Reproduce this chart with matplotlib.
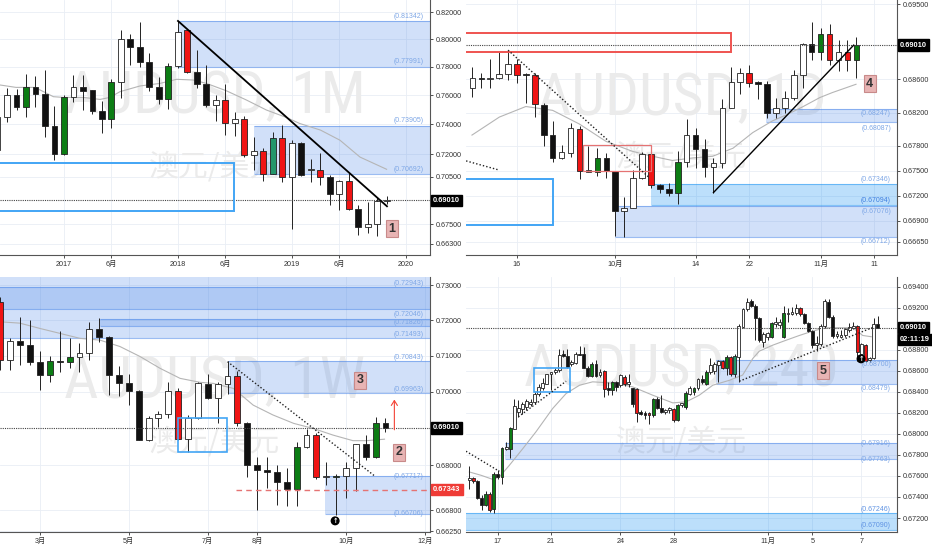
import matplotlib
matplotlib.use('Agg')
import matplotlib.pyplot as plt
from matplotlib import font_manager
from matplotlib.patches import Rectangle

plt.rcParams['font.family'] = ['Liberation Sans', 'Noto Sans CJK SC']

# ---------------- monthly candles (Jun 2016 .. Nov 2019) ----------------
m_open = [0.7225, 0.7451, 0.7600, 0.7520, 0.7658, 0.7607, 0.7386, 0.7198, 0.7584, 0.7658,
          0.7635, 0.7491, 0.7432, 0.7692, 0.8005, 0.7944, 0.7835, 0.7658, 0.7570, 0.7805,
          0.8065, 0.7765, 0.7680, 0.7529, 0.7568, 0.7409, 0.7432, 0.7191, 0.7218, 0.7071,
          0.7310, 0.7050, 0.7274, 0.7093, 0.7093, 0.7050, 0.6941, 0.7022, 0.6845, 0.6734,
          0.6750, 0.6895]
m_high = [0.7525, 0.7650, 0.7640, 0.7750, 0.7735, 0.7776, 0.7525, 0.7600, 0.7740, 0.7745,
          0.7638, 0.7560, 0.7715, 0.8066, 0.8041, 0.8127, 0.7897, 0.7730, 0.7825, 0.8135,
          0.8068, 0.7918, 0.7810, 0.7600, 0.7677, 0.7485, 0.7455, 0.7315, 0.7240, 0.7345,
          0.7395, 0.7296, 0.7280, 0.7168, 0.7205, 0.7060, 0.7030, 0.7082, 0.6872, 0.6893,
          0.6920, 0.6931]
m_low = [0.7150, 0.7416, 0.7497, 0.7450, 0.7515, 0.7315, 0.7162, 0.7195, 0.7555, 0.7495,
         0.7470, 0.7338, 0.7377, 0.7577, 0.7812, 0.7800, 0.7630, 0.7536, 0.7507, 0.7790,
         0.7757, 0.7652, 0.7517, 0.7420, 0.7326, 0.7320, 0.7180, 0.7093, 0.7025, 0.7068,
         0.7020, 0.6722, 0.7055, 0.7015, 0.7000, 0.6872, 0.6840, 0.6840, 0.6684, 0.6694,
         0.6680, 0.6876]
m_close = [0.7451, 0.7598, 0.7520, 0.7658, 0.7607, 0.7386, 0.7198, 0.7584, 0.7658, 0.7630,
           0.7491, 0.7432, 0.7692, 0.8005, 0.7944, 0.7835, 0.7658, 0.7570, 0.7805, 0.8055,
           0.7765, 0.7680, 0.7529, 0.7568, 0.7409, 0.7432, 0.7191, 0.7218, 0.7071, 0.7310,
           0.7050, 0.7274, 0.7061, 0.7103, 0.7050, 0.6941, 0.7022, 0.6845, 0.6734, 0.6750,
           0.6895, 0.6901]
m_mark = "wwkgkkkgwkkkgwkkkkgwrkkwrwrwrtrwkwrkwrkwww"
m_ticks = [7, 12, 19, 24, 31, 36, 43]
m_tick_labels = ['2017', '6月', '2018', '6月', '2019', '6月', '2020']
m_yticks = [0.82, 0.80, 0.78, 0.76, 0.74, 0.72, 0.705, 0.675, 0.663]
m_ma_x = [0.26, 1.95, 3.95, 5.88, 6.93, 9.04, 10.79, 11.84, 12.89, 15.0, 17.1, 18.86,
          20.61, 22.0, 24.1, 26.2, 28.3, 30.4, 31.8, 34.0, 36.05, 38.16, 40.96]
m_ma = [0.7671, 0.7654, 0.7654, 0.7589, 0.7584, 0.7584, 0.7570, 0.7584, 0.7624, 0.7664,
        0.7682, 0.7711, 0.7706, 0.7682, 0.7630, 0.7566, 0.7497, 0.7446, 0.7405, 0.7360,
        0.7292, 0.7180, 0.7100]

# ---------------- daily candles (Sep 9 .. Nov 7 2019), index 0 = Sep 16 ----------------
d_x = list(range(-5, 39))
d_open = [0.6849, 0.6862, 0.6860, 0.6862, 0.6866, 0.6878, 0.6866, 0.6865, 0.6829, 0.6793,
          0.6766, 0.6772, 0.6800, 0.6749, 0.6749, 0.6766, 0.6750, 0.6702, 0.6706, 0.6742,
          0.6770, 0.6733, 0.6728, 0.6724, 0.6761, 0.6793, 0.6776, 0.6755, 0.6759, 0.6826,
          0.6857, 0.6868, 0.6857, 0.6854, 0.6819, 0.6825, 0.6838, 0.6865, 0.6902, 0.6893,
          0.6914, 0.6883, 0.6893, 0.6883]
d_high = [0.6875, 0.6868, 0.6884, 0.6893, 0.6895, 0.6884, 0.6868, 0.6867, 0.6831, 0.6810,
          0.6781, 0.6807, 0.6804, 0.6780, 0.6778, 0.6772, 0.6750, 0.6719, 0.6751, 0.6773,
          0.6772, 0.6734, 0.6735, 0.6774, 0.6812, 0.6802, 0.6788, 0.6765, 0.6836, 0.6875,
          0.6873, 0.6877, 0.6858, 0.6858, 0.6837, 0.6846, 0.6871, 0.6903, 0.6929, 0.6922,
          0.6926, 0.6907, 0.6907, 0.6911]
d_low = [0.6839, 0.6849, 0.6849, 0.6860, 0.6859, 0.6855, 0.6832, 0.6815, 0.6780, 0.6761,
         0.6764, 0.6767, 0.6740, 0.6749, 0.6744, 0.6741, 0.6672, 0.6671, 0.6705, 0.6740,
         0.6730, 0.6724, 0.6720, 0.6710, 0.6755, 0.6753, 0.6743, 0.6724, 0.6753, 0.6825,
         0.6842, 0.6851, 0.6836, 0.6813, 0.6813, 0.6819, 0.6835, 0.6850, 0.6883, 0.6883,
         0.6877, 0.6870, 0.6870, 0.6862]
d_close = [0.6862, 0.6860, 0.6862, 0.6866, 0.6878, 0.6865, 0.6865, 0.6830, 0.6793, 0.6766,
           0.6773, 0.6801, 0.6750, 0.6751, 0.6766, 0.6750, 0.6702, 0.6706, 0.6742, 0.6770,
           0.6733, 0.6728, 0.6724, 0.6761, 0.6793, 0.6776, 0.6755, 0.6759, 0.6826, 0.6857,
           0.6868, 0.6856, 0.6854, 0.6819, 0.6825, 0.6838, 0.6865, 0.6902, 0.6893, 0.6914,
           0.6883, 0.6893, 0.6883, 0.6901]
d_mark = "wkwwwrkrkkwwrwgkkwwwrkkgwkkwwwwrkkwwwwkgrwrg"
d_ticks = [0, 11, 20, 26, 34, 40]
d_tick_labels = ['16', '10月', '14', '22', '11月', '11']
d_yticks = [0.695, 0.686, 0.682, 0.678, 0.675, 0.672, 0.669, 0.6665]
d_ma_x = [-5.04, -1.98, 0.99, 3.99, 6.98, 9.97, 12.95, 15.2, 17.4, 19.7, 21.9, 24.2,
          26.4, 28.6, 30.1, 32.0, 33.9, 35.3, 37.96]
d_ma = [0.6793, 0.68146, 0.68273, 0.68227, 0.68063, 0.67854, 0.67734, 0.67675, 0.67625,
        0.67656, 0.67675, 0.67773, 0.6796, 0.6810, 0.6817, 0.6827, 0.6838, 0.6844, 0.6854]

# ---------------- weekly candles (Feb 4 .. Nov 4 2019), index 0 = Mar 4 ----------------
w_x = list(range(-4, 36))
w_open = [0.7251, 0.7088, 0.7141, 0.7130, 0.7082, 0.7046, 0.7085, 0.7082, 0.7097, 0.7107,
          0.7175, 0.7154, 0.7046, 0.7025, 0.7002, 0.6868, 0.6927, 0.6938, 0.7003, 0.6871,
          0.6927, 0.7020, 0.6982, 0.7020, 0.7043, 0.6913, 0.6800, 0.6787, 0.6781, 0.6756,
          0.6736, 0.6850, 0.6881, 0.6767, 0.6768, 0.6772, 0.6793, 0.6856, 0.6823, 0.6913]
w_high = [0.7268, 0.7151, 0.7210, 0.7201, 0.7113, 0.7099, 0.7169, 0.7149, 0.7135, 0.7196,
          0.7206, 0.7156, 0.7072, 0.7049, 0.7004, 0.6934, 0.6946, 0.7026, 0.7009, 0.6936,
          0.7026, 0.7048, 0.7026, 0.7085, 0.7057, 0.6918, 0.6823, 0.6821, 0.6800, 0.6791,
          0.6863, 0.6898, 0.6886, 0.6809, 0.6777, 0.6809, 0.6858, 0.6882, 0.6931, 0.6929]
w_low = [0.7060, 0.7060, 0.7074, 0.7074, 0.7005, 0.7028, 0.7056, 0.7065, 0.7055, 0.7088,
         0.7140, 0.6991, 0.6988, 0.6963, 0.6868, 0.6866, 0.6903, 0.6929, 0.6868, 0.6834,
         0.6925, 0.6980, 0.6913, 0.6995, 0.6907, 0.6767, 0.6681, 0.6738, 0.6694, 0.6692,
         0.6692, 0.6845, 0.6763, 0.6747, 0.6668, 0.6713, 0.6731, 0.6813, 0.6818, 0.6890]
w_close = [0.7088, 0.7141, 0.7130, 0.7082, 0.7046, 0.7085, 0.7082, 0.7097, 0.7107, 0.7175,
           0.7154, 0.7046, 0.7025, 0.7002, 0.6868, 0.6927, 0.6938, 0.7003, 0.6870, 0.6927,
           0.7023, 0.6982, 0.7020, 0.7043, 0.6913, 0.6800, 0.6787, 0.6781, 0.6756, 0.6736,
           0.6850, 0.6880, 0.6767, 0.6770, 0.6772, 0.6793, 0.6856, 0.6823, 0.6913, 0.6901]
w_mark = "rwkkkgkgwwkkkkkwwwrwwkwwrkkkkkgwrwgwwkgk"
w_ticks = [0, 9, 17, 22, 31, 39]
w_tick_labels = ['3月', '5月', '7月', '8月', '10月', '12月']
w_yticks = [0.73, 0.72, 0.71, 0.70, 0.68, 0.668, 0.6625]
w_ma_x = [-4.05, -2.03, 0.0, 2.03, 4.05, 6.08, 8.1, 10.13, 12.16, 14.19, 16.21, 17.56,
          19.6, 21.6, 23.6, 25.7, 27.7, 29.7, 31.7, 33.1, 34.9]
w_ma = [0.7196, 0.7192, 0.7177, 0.7163, 0.7149, 0.7144, 0.7126, 0.7098, 0.7065, 0.7037,
        0.7026, 0.7023, 0.7009, 0.6963, 0.6936, 0.6913, 0.6899, 0.6881, 0.6866, 0.6866,
        0.6870]

# ---------------- 4h candles (Oct 16 .. Nov 7 2019) ----------------
h_open = [0.67558, 0.67581, 0.67549, 0.67390, 0.67320, 0.67431, 0.67289, 0.67616, 0.67590, 0.67860,
          0.67860, 0.68051, 0.68209, 0.68241, 0.68257, 0.68289, 0.68305, 0.68384, 0.68438, 0.68479,
          0.68565, 0.68584, 0.68606, 0.68758, 0.68743, 0.68660, 0.68670, 0.68762, 0.68762, 0.68628,
          0.68552, 0.68663, 0.68559, 0.68597, 0.68432, 0.68416, 0.68495, 0.68463, 0.68543, 0.68470,
          0.68432, 0.68425, 0.68209, 0.68203, 0.68203, 0.68178, 0.68330, 0.68247, 0.68209, 0.68225,
          0.68241, 0.68130, 0.68273, 0.68257, 0.68384, 0.68400, 0.68432, 0.68520, 0.68479, 0.68584,
          0.68597, 0.68654, 0.68692, 0.68628, 0.68727, 0.68565, 0.68733, 0.69019, 0.69184, 0.69263,
          0.69219, 0.69105, 0.68876, 0.68924, 0.68924, 0.69041, 0.69035, 0.68924, 0.69136, 0.69136,
          0.69152, 0.69200, 0.69136, 0.69050, 0.68978, 0.68844, 0.68851, 0.69028, 0.69257, 0.69114,
          0.68933, 0.68924, 0.68940, 0.68987, 0.69009, 0.69028, 0.68755, 0.68844, 0.68701, 0.68717,
          0.69041]
h_high = [0.67695, 0.67590, 0.67558, 0.67416, 0.67454, 0.67447, 0.67638, 0.67654, 0.67876, 0.67924,
          0.68066, 0.68330, 0.68320, 0.68305, 0.68336, 0.68330, 0.68400, 0.68479, 0.68527, 0.68574,
          0.68590, 0.68628, 0.68806, 0.68797, 0.68806, 0.68701, 0.68781, 0.68838, 0.68828, 0.68647,
          0.68679, 0.68698, 0.68616, 0.68606, 0.68489, 0.68501, 0.68501, 0.68565, 0.68559, 0.68574,
          0.68438, 0.68432, 0.68225, 0.68216, 0.68209, 0.68343, 0.68352, 0.68368, 0.68241, 0.68257,
          0.68247, 0.68289, 0.68298, 0.68406, 0.68457, 0.68447, 0.68533, 0.68559, 0.68603, 0.68717,
          0.68679, 0.68701, 0.68701, 0.68749, 0.68743, 0.68755, 0.69041, 0.69193, 0.69295, 0.69282,
          0.69232, 0.69114, 0.68965, 0.68971, 0.69066, 0.69114, 0.69092, 0.69219, 0.69193, 0.69209,
          0.69232, 0.69209, 0.69152, 0.69066, 0.68987, 0.68933, 0.69041, 0.69282, 0.69282, 0.69130,
          0.68978, 0.68987, 0.69009, 0.69050, 0.69066, 0.69035, 0.68860, 0.68851, 0.68733, 0.69098,
          0.69124]
h_low = [0.67479, 0.67536, 0.67384, 0.67273, 0.67314, 0.67257, 0.67250, 0.67574, 0.67527, 0.67844,
         0.67771, 0.68044, 0.68162, 0.68193, 0.68225, 0.68267, 0.68289, 0.68362, 0.68416, 0.68470,
         0.68416, 0.68574, 0.68590, 0.68733, 0.68628, 0.68647, 0.68660, 0.68749, 0.68622, 0.68543,
         0.68543, 0.68543, 0.68543, 0.68352, 0.68374, 0.68374, 0.68406, 0.68447, 0.68457, 0.68447,
         0.68257, 0.68114, 0.68178, 0.68146, 0.68098, 0.68162, 0.68241, 0.68203, 0.68193, 0.68203,
         0.68114, 0.68120, 0.68257, 0.68241, 0.68368, 0.68374, 0.68416, 0.68470, 0.68463, 0.68574,
         0.68574, 0.68495, 0.68616, 0.68559, 0.68549, 0.68543, 0.68495, 0.69003, 0.69168, 0.69209,
         0.68890, 0.68876, 0.68828, 0.68890, 0.68908, 0.69019, 0.69009, 0.68914, 0.69066, 0.69130,
         0.69130, 0.69124, 0.69041, 0.68971, 0.68819, 0.68787, 0.68838, 0.69009, 0.69098, 0.68914,
         0.68908, 0.68908, 0.68924, 0.68971, 0.68997, 0.68692, 0.68733, 0.68679, 0.68679, 0.68710,
         0.69005]
h_close = [0.67581, 0.67549, 0.67390, 0.67320, 0.67431, 0.67273, 0.67616, 0.67590, 0.67866, 0.67876,
           0.68057, 0.68265, 0.68247, 0.68289, 0.68311, 0.68305, 0.68384, 0.68447, 0.68486, 0.68565,
           0.68584, 0.68612, 0.68749, 0.68743, 0.68638, 0.68679, 0.68762, 0.68749, 0.68628, 0.68552,
           0.68663, 0.68552, 0.68590, 0.68425, 0.68416, 0.68495, 0.68447, 0.68559, 0.68470, 0.68489,
           0.68289, 0.68203, 0.68193, 0.68184, 0.68178, 0.68330, 0.68247, 0.68209, 0.68231, 0.68247,
           0.68130, 0.68279, 0.68295, 0.68393, 0.68438, 0.68432, 0.68520, 0.68489, 0.68590, 0.68654,
           0.68660, 0.68692, 0.68628, 0.68727, 0.68565, 0.68743, 0.69028, 0.69184, 0.69257, 0.69219,
           0.69105, 0.68890, 0.68946, 0.68955, 0.69057, 0.69066, 0.69060, 0.69152, 0.69152, 0.69155,
           0.69200, 0.69136, 0.69050, 0.68978, 0.68844, 0.68860, 0.69028, 0.69263, 0.69114, 0.68933,
           0.68946, 0.68940, 0.68997, 0.69019, 0.69028, 0.68781, 0.68851, 0.68692, 0.68717, 0.69041,
           0.69010]
h_mark = ("wrkkgrgkgwgwwwwwwwwwwwwkkwwkkkgkwrkgkwrwkrkkrgkkwwrgwgwgwkgwwwrgrtwwwkkkwwgwwgwwwrkkkwwwkkwwwwwrwrwwk")
h_x = list(range(len(h_open)))
h_ticks = [7, 20, 37, 50, 73, 84, 96]
h_tick_labels = ['17', '21', '24', '28', '11月', '5', '7']
h_yticks = [0.694, 0.692, 0.688, 0.686, 0.684, 0.682, 0.680, 0.678, 0.676, 0.674, 0.672]
h_ma_x = [0, 2.9, 5.7, 7.35, 9.8, 13.1, 16.3, 20.4, 23.7, 27.0, 30.2, 32.7, 36.0, 40.0,
          44.9, 49.8, 53.1, 56.3, 59.6, 63.7, 66.9, 69.4, 71.0, 74.3, 77.5, 80.8, 84.1,
          87.3, 90.6, 93.9, 96.3, 98.4]
h_ma = [0.67638, 0.67606, 0.67568, 0.67590, 0.67701, 0.67860, 0.68019, 0.68241, 0.68384,
        0.68463, 0.68495, 0.68489, 0.68479, 0.68447, 0.68368, 0.68295, 0.68305, 0.68368,
        0.68463, 0.68510, 0.68559, 0.68717, 0.68787, 0.68844, 0.68890, 0.68936, 0.68978,
        0.69009, 0.69009, 0.69009, 0.68936, 0.68924]

last_price = 0.6901

FILL = {'w': 'white', 'k': '#111111', 'r': '#f01414', 'g': '#0c7d14', 't': '#23966a'}
ZONE = '#4a86e8'
SKY = '#2196f3'
LBL = '#7ea7e6'


def pick_font(names, default='Liberation Sans'):
    # first narrow face that is really installed
    for n in names:
        try:
            font_manager.findfont(font_manager.FontProperties(family=n), fallback_to_default=False)
            return n
        except ValueError:
            pass
    return default


WM_FONT = pick_font(['Liberation Sans Narrow', 'Noto Sans Condensed', 'Roboto Condensed',
                     'DejaVu Sans Condensed', 'Open Sans Condensed'])

W, H = 932, 550
fig = plt.figure(figsize=(W / 100, H / 100), dpi=100)


def px_axes(left, top, right, bottom):
    return fig.add_axes([left / W, 1 - bottom / H, (right - left) / W, (bottom - top) / H])


def candles(ax, x, o, h, l, c, marks, width):
    for xi, oi, hi, li, ci, mk in zip(x, o, h, l, c, marks):
        ax.vlines(xi, li, hi, color='#222222', lw=0.7, zorder=4)
        lo, top = min(oi, ci), max(oi, ci)
        ax.bar(xi, top - lo, width, bottom=lo, color=FILL[mk], edgecolor='#222222',
               lw=0.6, zorder=5)


def price_tag(ax, p, txt, fc, dy=0):
    ax.annotate(txt, xy=(1, p), xycoords=ax.get_yaxis_transform(), xytext=(3, dy),
                textcoords='offset pixels', ha='left', va='center', fontsize=5.4,
                fontweight='bold', color='white', annotation_clip=False, zorder=10,
                bbox=dict(boxstyle='square,pad=0.3', fc=fc, ec=fc))


def setup(ax, xlim, ylim, yticks, xticks, xlabels, log=False):
    if log:
        ax.set_yscale('log')
    ax.set_xlim(xlim)
    ax.set_ylim(ylim)
    ax.yaxis.tick_right()
    ax.set_yticks(yticks)
    ax.set_yticklabels([f'{v:.5f}' for v in yticks])
    ax.minorticks_off()
    ax.set_xticks(xticks)
    ax.set_xticklabels(xlabels)
    ax.tick_params(labelsize=5.2, colors='#333333', length=2.5, width=0.6, pad=1.5)
    for s in ['top', 'left']:
        ax.spines[s].set_visible(False)
    for s in ['right', 'bottom']:
        ax.spines[s].set_color('#555555')
        ax.spines[s].set_linewidth(0.8)
    ax.grid(True, color='#e9eef5', lw=0.6)
    ax.set_axisbelow(True)
    ax.axhline(last_price, color='#444444', lw=0.8, ls=(0, (1, 1)), zorder=6)
    price_tag(ax, last_price, '0.69010', 'black')


marks_wm = []


def watermark(ax, name, y_name, y_cn):
    t = ax.text(0.5, y_name, name, transform=ax.transAxes, ha='center', va='center',
                fontsize=44, color='#ebebeb', family=WM_FONT, zorder=0.6)
    marks_wm.append(t)
    ax.text(0.5, y_cn, '澳元/美元', transform=ax.transAxes, ha='center', va='center',
            fontsize=21.5, color='#ebebeb', family=['Noto Sans CJK SC'], zorder=0.6)


def zone(ax, x0, lo, hi, color=ZONE, alpha=0.25):
    x1 = ax.get_xlim()[1] + 2
    ax.fill_between([x0, x1], lo, hi, color=color, alpha=alpha, lw=0, zorder=2)
    ax.hlines([lo, hi], x0, x1, colors=color, alpha=0.55, lw=0.8, zorder=2)


def zone_label(ax, p, dy, color=LBL):
    ax.annotate(f'({p:.5f})', xy=(1, p), xycoords=ax.get_yaxis_transform(), xytext=(-6, dy),
                textcoords='offset pixels', ha='right', va='center', fontsize=5,
                color=color, zorder=7)


def box(ax, x0, x1, lo, hi, color, lw=1.2):
    ax.add_patch(Rectangle((x0, lo), x1 - x0, hi - lo, fill=False, ec=color, lw=lw, zorder=6))


def num_box(ax, x, y, s):
    ax.text(x, y, s, ha='center', va='center', fontsize=9, fontweight='bold', color='#333333',
            zorder=8, bbox=dict(boxstyle='square,pad=0.2', fc='#e8b4b4', ec='#c88a8a', lw=0.8))


def up_icon(ax, x, y):
    ax.text(x, y, '↑', ha='center', va='center', fontsize=4.8, fontweight='bold',
            color='white', family='DejaVu Sans', zorder=9,
            bbox=dict(boxstyle='circle,pad=0.12', fc='black', ec='black'))


# ---- panel 1: monthly ----
ax1 = px_axes(0, 0, 430, 255)
m_x = list(range(len(m_open)))
setup(ax1, (0.263, 45.53), (0.6563, 0.8293), m_yticks, m_ticks, m_tick_labels, log=True)
watermark(ax1, 'AUDUSD, 1M', 0.62, 0.345)
zone(ax1, 18.95, 0.77991, 0.81342)
zone(ax1, 27.0, 0.70692, 0.73905)
for p in [0.81342, 0.77991, 0.73905, 0.70692]:
    zone_label(ax1, p, 5)
box(ax1, -2, 24.9, 0.6835, 0.7141, '#42a5f5', 1.4)
ax1.plot(m_ma_x, m_ma, color='#b5b5b5', lw=0.8, zorder=3)
candles(ax1, m_x, m_open, m_high, m_low, m_close, m_mark, 0.63)
ax1.plot([19, 41], [0.8135, 0.6863], color='black', lw=1.3, zorder=6)
num_box(ax1, 41.5, 0.6724, '1')

# ---- panel 2: daily ----
ax2 = px_axes(466, 0, 897, 255)
setup(ax2, (-5.71, 42.55), (0.66490, 0.69552), d_yticks, d_ticks, d_tick_labels)
watermark(ax2, 'AUDUSD, 1D', 0.615, 0.385)
zone(ax2, 11.0, 0.66712, 0.67076)
zone(ax2, 15.0, 0.67094, 0.67346, SKY, 0.3)
zone(ax2, 27.9, 0.68087, 0.68247)
zone_label(ax2, 0.68247, -5)
zone_label(ax2, 0.68087, -6)
zone_label(ax2, 0.67346, 4)
zone_label(ax2, 0.67094, 4, '#3f7fe0')
zone_label(ax2, 0.67076, -5)
zone_label(ax2, 0.66712, -5)
box(ax2, -7, 24.0, 0.6893, 0.6915, '#ef5350', 1.4)
box(ax2, 7.36, 15.0, 0.6750, 0.6781, '#e57373', 0.9)
box(ax2, -7, 4.0, 0.66853, 0.6740, '#42a5f5', 1.4)
ax2.plot(d_ma_x, d_ma, color='#b5b5b5', lw=0.8, zorder=3)
candles(ax2, d_x, d_open, d_high, d_low, d_close, d_mark, 0.62)
ax2.plot([-1, 14.8], [0.6895, 0.6742], color='#222222', lw=1.0, ls=(0, (1, 1.5)), zorder=6)
ax2.plot([-5.7, -2.0], [0.6762, 0.6751], color='#222222', lw=1.0, ls=(0, (1, 1.5)), zorder=6)
ax2.plot([22, 37.7], [0.6724, 0.6901], color='black', lw=1.0, zorder=6)
num_box(ax2, 39.5, 0.68546, '4')

# ---- panel 3: weekly ----
ax3 = px_axes(0, 277, 430, 532)
setup(ax3, (-4.05, 39.51), (0.66228, 0.73243), w_yticks, w_ticks, w_tick_labels, log=True)
watermark(ax3, 'AUDUSD, 1W', 0.588, 0.354)
zone(ax3, -6, 0.72313, 0.7450)
zone(ax3, -6, 0.71493, 0.72943)
zone(ax3, 6.08, 0.71826, 0.72046)
zone(ax3, 19.0, 0.69963, 0.70843)
zone(ax3, 28.9, 0.66706, 0.67717)
for p in [0.72943, 0.72046, 0.71826, 0.71493, 0.70843, 0.69963]:
    zone_label(ax3, p, 4)
zone_label(ax3, 0.67717, -1)
zone_label(ax3, 0.66706, 0)
box(ax3, 13.95, 18.98, 0.6834, 0.6929, '#42a5f5', 1.2)
ax3.plot(w_ma_x, w_ma, color='#b5b5b5', lw=0.8, zorder=3)
candles(ax3, w_x, w_open, w_high, w_low, w_close, w_mark, 0.6)
ax3.plot([19, 33.9], [0.70834, 0.6771], color='#222222', lw=1.0, ls=(0, (1, 1.5)), zorder=6)
ax3.hlines(0.67343, 19.9, 41, colors='#e57373', lw=1.0, linestyles=(0, (4, 3)), zorder=6)
price_tag(ax3, 0.67343, '0.67343', '#ef3b36')
ax3.annotate('', xy=(35.9, 0.6986), xytext=(35.9, 0.6888),
             arrowprops=dict(arrowstyle='->,head_length=0.35,head_width=0.22',
                             color='#f44336', lw=0.8), zorder=7)
num_box(ax3, 32.4, 0.70323, '3')
num_box(ax3, 36.4, 0.68344, '2')
up_icon(ax3, 29.9, 0.6652)

# ---- panel 4: 240 minutes ----
ax4 = px_axes(466, 277, 897, 532)
setup(ax4, (-0.81, 104.7), (0.67067, 0.69492), h_yticks, h_ticks, h_tick_labels)
watermark(ax4, 'AUDUSD, 240', 0.635, 0.354)
zone(ax4, 60.4, 0.68479, 0.68700)
zone(ax4, 8.8, 0.67763, 0.67916)
zone(ax4, -3, 0.67090, 0.67246, SKY, 0.3)
zone_label(ax4, 0.68700, -4)
zone_label(ax4, 0.68479, -5)
zone_label(ax4, 0.67916, -1)
zone_label(ax4, 0.67763, -1)
zone_label(ax4, 0.67246, 4, '#5f93e3')
zone_label(ax4, 0.67090, 4, '#5f93e3')
box(ax4, 15.9, 24.7, 0.6840, 0.68628, '#42a5f5', 1.2)
ax4.plot(h_ma_x, h_ma, color='#b5b5b5', lw=0.8, zorder=3)
candles(ax4, h_x, h_open, h_high, h_low, h_close, h_mark, 0.7)
ax4.plot([-0.81, 7.35], [0.67835, 0.67644], color='#222222', lw=1.0, ls=(0, (1, 1.5)), zorder=6)
ax4.plot([12, 23.7], [0.68162, 0.68501], color='#222222', lw=1.0, ls=(0, (1, 1.5)), zorder=6)
ax4.plot([66.1, 99.2], [0.68501, 0.69019], color='#222222', lw=1.0, ls=(0, (1, 1.5)), zorder=6)
price_tag(ax4, last_price, '02:11:19', 'black', dy=-12)
num_box(ax4, 86.5, 0.68599, '5')
up_icon(ax4, 95.9, 0.68714)

# fit the big watermark so "AUDUSD, 1M" is about 300 px wide
renderer = fig.canvas.get_renderer()
wm_width = marks_wm[0].get_window_extent(renderer).width
wm_size = 44 * 300 / wm_width
for t in marks_wm:
    t.set_fontsize(wm_size)

fig.savefig('out.png', dpi=100)
